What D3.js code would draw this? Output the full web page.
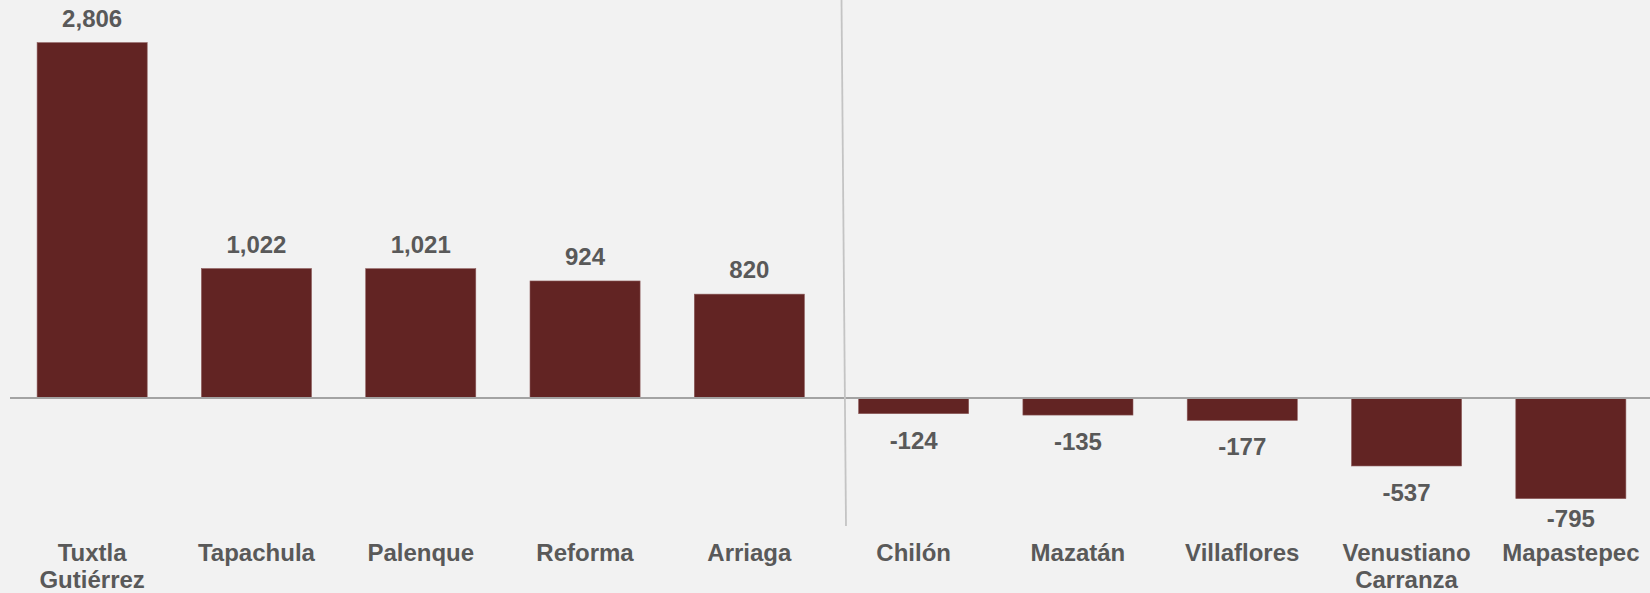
<!DOCTYPE html>
<html>
<head>
<meta charset="utf-8">
<script src="https://cdn.jsdelivr.net/npm/d3@7"></script>
<style>
  html, body { margin: 0; padding: 0; background: #f2f2f2; }
  svg { display: block; }
  text { font-family: "Liberation Sans", Arial, sans-serif; font-weight: bold; fill: #595959; }
</style>
</head>
<body>
<svg id="chart"></svg>
<script>
// categories (municipios) and values
var categories = ["Tuxtla Gutiérrez", "Tapachula", "Palenque", "Reforma", "Arriaga",
                  "Chilón", "Mazatán", "Villaflores", "Venustiano Carranza", "Mapastepec"];
var labelLines = [["Tuxtla", "Gutiérrez"], ["Tapachula"], ["Palenque"], ["Reforma"], ["Arriaga"],
                  ["Chilón"], ["Mazatán"], ["Villaflores"], ["Venustiano", "Carranza"], ["Mapastepec"]];
var values = [2806, 1022, 1021, 924, 820, -124, -135, -177, -537, -795];

var width = 1650, height = 593;
var barColor = "#622423";

var svg = d3.select("#chart")
    .attr("width", width)
    .attr("height", height);

var x = d3.scaleBand()
    .domain(categories)
    .range([10, 1653])
    .paddingInner(0.33)
    .paddingOuter(0.165);

var y = d3.scaleLinear()
    .domain([-1000, 3000])
    .range([524.6, 18.1]);

// plain hyphen for negatives, comma thousands
var fmt = d3.formatLocale({
  decimal: ".", thousands: ",", grouping: [3], currency: ["$", ""], minus: "-"
}).format(",");

// bars
svg.append("g")
  .selectAll("rect")
  .data(values)
  .join("rect")
    .attr("x", function(d, i) { return x(categories[i]); })
    .attr("y", function(d) { return y(Math.max(0, d)); })
    .attr("width", x.bandwidth())
    .attr("height", function(d) { return Math.abs(y(d) - y(0)); })
    .attr("fill", barColor)
    .attr("stroke", "#8c5a5a")
    .attr("stroke-width", 0.6);

// zero line
svg.append("line")
    .attr("x1", 10)
    .attr("x2", 1650)
    .attr("y1", y(0))
    .attr("y2", y(0))
    .attr("stroke", "#a3a3a3")
    .attr("stroke-width", 2);

// divider between positive and negative groups
svg.append("line")
    .attr("x1", 841.5)
    .attr("y1", 0)
    .attr("x2", 846)
    .attr("y2", 526)
    .attr("stroke", "#c4c4c4")
    .attr("stroke-width", 1.8);

// value labels
svg.append("g")
  .selectAll("text")
  .data(values)
  .join("text")
    .attr("x", function(d, i) { return x(categories[i]) + x.bandwidth() / 2; })
    .attr("y", function(d) {
      if (d >= 0) return y(d) - 16;
      return Math.min(y(d) + 35, 527);
    })
    .attr("text-anchor", "middle")
    .style("font-size", "24px")
    .text(function(d) { return fmt(d); });

// category labels
var cat = svg.append("g")
  .selectAll("text")
  .data(labelLines)
  .join("text")
    .attr("x", function(d, i) { return x(categories[i]) + x.bandwidth() / 2; })
    .attr("y", 561)
    .attr("text-anchor", "middle")
    .style("font-size", "24px");

cat.selectAll("tspan")
  .data(function(d) { return d; })
  .join("tspan")
    .attr("x", function() { return d3.select(this.parentNode).attr("x"); })
    .attr("dy", function(d, i) { return i === 0 ? 0 : 26.5; })
    .text(function(d) { return d; });
</script>
</body>
</html>
